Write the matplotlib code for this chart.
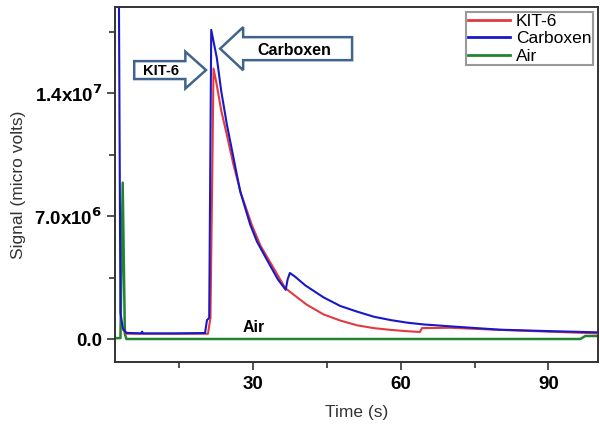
import numpy as np
import matplotlib
matplotlib.use('Agg')
import matplotlib.pyplot as plt
from matplotlib.patches import Polygon
from matplotlib.ticker import FixedLocator

plt.rcParams['font.family'] = ['Liberation Sans', 'DejaVu Sans']

# Signal traces (time in s, signal in micro volts)
kit6_t = [3.6, 4.2, 8.0, 14.0, 20.8, 21.3, 21.7, 21.92, 22.5, 23.5, 24.65, 26.0, 27.5,
          29.7, 31.5, 33.8, 36.5, 38.1, 40.9, 44.3, 47.7, 51.1, 54.5, 57.9, 61.0,
          63.9, 64.3, 70.1, 80.0, 90.0, 100.0]
kit6_s = [0.5e6, 0.3e6, 0.3e6, 0.3e6, 0.3e6, 1.2e6, 10.0e6, 15.4e6, 14.6e6, 13.0e6,
          11.6e6, 9.9e6, 8.3e6, 6.5e6, 5.3e6, 4.2e6, 2.9e6, 2.55e6, 1.95e6, 1.4e6,
          1.05e6, 0.78e6, 0.62e6, 0.52e6, 0.45e6, 0.40e6, 0.62e6, 0.64e6, 0.52e6,
          0.42e6, 0.32e6]

carboxen_t = [1.5, 2.6, 3.0, 3.5, 4.2, 7.2, 7.4, 7.6, 14.0, 20.2, 20.6, 21.05, 21.46,
              22.6, 23.5, 24.65, 26.0, 27.35, 29.4, 30.75, 32.8, 35.0, 36.6, 37.0,
              37.45, 38.5, 40.6, 44.3, 47.7, 51.1, 54.5, 57.9, 61.3, 64.6, 70.1,
              80.2, 90.0, 100.0]
carboxen_s = [25e6, 25e6, 1.5e6, 0.6e6, 0.35e6, 0.32e6, 0.42e6, 0.32e6, 0.32e6,
              0.34e6, 1.08e6, 1.2e6, 17.6e6, 16.0e6, 14.1e6, 12.2e6, 10.3e6, 8.4e6,
              6.5e6, 5.55e6, 4.5e6, 3.4e6, 2.8e6, 3.4e6, 3.76e6, 3.55e6, 3.05e6,
              2.37e6, 1.88e6, 1.56e6, 1.27e6, 1.08e6, 0.93e6, 0.83e6, 0.72e6,
              0.53e6, 0.45e6, 0.38e6]

air_t = [1.5, 3.0, 3.46, 3.9, 4.2, 50.0, 96.5, 97.5, 100.0]
air_s = [0.05e6, 0.05e6, 8.9e6, 0.3e6, 0.0, 0.0, 0.0, 0.17e6, 0.17e6]

series_names = ['KIT-6', 'Carboxen', 'Air']
series_colors = ['#e23a3f', '#1818c8', '#23832e']

fig = plt.figure(figsize=(6, 4.26), dpi=100)
ax = fig.add_axes([0.1917, 0.1502, 0.805, 0.8333])

ax.plot(kit6_t, kit6_s, color=series_colors[0], lw=1.5, label=series_names[0], zorder=3)
ax.plot(carboxen_t, carboxen_s, color=series_colors[1], lw=1.5, label=series_names[1], zorder=4)
ax.plot(air_t, air_s, color=series_colors[2], lw=1.8, label=series_names[2], zorder=2)

ax.set_xlim(1.9, 100.1)
ax.set_ylim(-1.31e6, 18.9e6)

ax.xaxis.set_major_locator(FixedLocator([30, 60, 90]))
ax.xaxis.set_minor_locator(FixedLocator([15, 45, 75]))
ax.yaxis.set_major_locator(FixedLocator([0, 7e6, 14e6]))
ax.yaxis.set_minor_locator(FixedLocator([3.5e6, 10.5e6, 17.5e6]))
ax.set_xticklabels(['30', '60', '90'])
ax.set_yticklabels(['0.0', r'7.0x10$^{\mathbf{6}}$', r'1.4x10$^{\mathbf{7}}$'])
for lab in ax.get_xticklabels() + ax.get_yticklabels():
    lab.set_fontsize(13.5)
    lab.set_fontweight('bold')

ax.tick_params(which='major', length=6, width=1.2, color='#333333', direction='out')
ax.tick_params(which='minor', length=4, width=1.2, color='#333333', direction='out')
ax.tick_params(axis='x', pad=4)
ax.tick_params(axis='y', pad=3)
for sp in ax.spines.values():
    sp.set_color('#333333')
    sp.set_linewidth(1.4)

ax.set_xlabel('Time (s)', fontsize=12.5, color='#333333', labelpad=9)
ax.set_ylabel('Signal (micro volts)', fontsize=12.5, color='#333333', labelpad=6)

leg = ax.legend(loc='upper right', bbox_to_anchor=(0.99, 0.985), borderaxespad=0,
                fancybox=False, edgecolor='#999999', fontsize=12.5, handlelength=2.4,
                handletextpad=0.35, labelspacing=0.12, borderpad=0.1, framealpha=1)
leg.get_frame().set_linewidth(1.5)
for line in leg.get_lines():
    line.set_linewidth(2)


def block_arrow(tail, tip, yc, body_h, head_h, head_base):
    pts = [(tail, yc - body_h), (head_base, yc - body_h), (head_base, yc - head_h),
           (tip, yc), (head_base, yc + head_h), (head_base, yc + body_h),
           (tail, yc + body_h)]
    ax.add_patch(Polygon(pts, closed=True, facecolor='white', edgecolor='#41648c',
                         lw=1.8, zorder=5))


# KIT-6 arrow pointing right at the red peak
block_arrow(5.8, 20.4, 15.31e6, 0.51e6, 1.05e6, 16.2)
ax.text(11.2, 15.25e6, 'KIT-6', fontsize=10.5, fontweight='bold', ha='center',
        va='center', zorder=6)
# Carboxen arrow pointing left at the blue peak
block_arrow(50.1, 23.27, 16.53e6, 0.655e6, 1.225e6, 27.95)
ax.text(38.4, 16.45e6, 'Carboxen', fontsize=11.5, fontweight='bold', ha='center',
        va='center', zorder=6)

ax.text(30.0, 0.63e6, 'Air', fontsize=11.5, fontweight='bold', ha='center', va='center')

fig.savefig('out.png', dpi=100)
